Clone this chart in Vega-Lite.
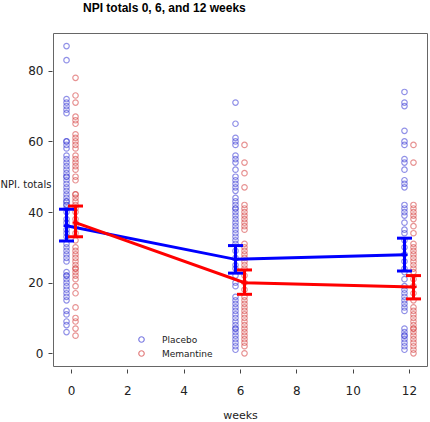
{
  "$schema": "https://vega.github.io/schema/vega-lite/v6.json",
  "width": 374,
  "height": 333,
  "autosize": "none",
  "padding": {"left": 53, "top": 33, "right": 3, "bottom": 56},
  "background": "white",
  "title": {"text": "NPI totals 0, 6, and 12 weeks", "anchor": "start", "frame": "group", "dx": 30, "font": "Liberation Sans", "fontSize": 12, "fontWeight": "bold", "color": "#000000", "offset": 18},
  "config": {
    "view": {"stroke": "#666666", "strokeWidth": 1},
    "axis": {"domain": false, "grid": false, "labelFont": "DejaVu Sans", "titleFont": "DejaVu Sans", "labelColor": "#222222", "titleColor": "#222222", "tickColor": "#444444", "titleFontWeight": "normal", "labelFontSize": 12}
  },
  "datasets": {
    "points": [
      {"week":0,"group":"Placebo","npi":87},{"week":0,"group":"Placebo","npi":83},{"week":0,"group":"Placebo","npi":72},{"week":0,"group":"Placebo","npi":71},{"week":0,"group":"Placebo","npi":70},{"week":0,"group":"Placebo","npi":69},{"week":0,"group":"Placebo","npi":68},{"week":0,"group":"Placebo","npi":60},{"week":0,"group":"Placebo","npi":60},{"week":0,"group":"Placebo","npi":59},{"week":0,"group":"Placebo","npi":58},{"week":0,"group":"Placebo","npi":56},{"week":0,"group":"Placebo","npi":55},{"week":0,"group":"Placebo","npi":54},{"week":0,"group":"Placebo","npi":53},{"week":0,"group":"Placebo","npi":52},{"week":0,"group":"Placebo","npi":51},{"week":0,"group":"Placebo","npi":50},{"week":0,"group":"Placebo","npi":50},{"week":0,"group":"Placebo","npi":49},{"week":0,"group":"Placebo","npi":48},{"week":0,"group":"Placebo","npi":47},{"week":0,"group":"Placebo","npi":46},{"week":0,"group":"Placebo","npi":45},{"week":0,"group":"Placebo","npi":44},{"week":0,"group":"Placebo","npi":43},{"week":0,"group":"Placebo","npi":42},{"week":0,"group":"Placebo","npi":43},{"week":0,"group":"Placebo","npi":42},{"week":0,"group":"Placebo","npi":41},{"week":0,"group":"Placebo","npi":40},{"week":0,"group":"Placebo","npi":38},{"week":0,"group":"Placebo","npi":37},{"week":0,"group":"Placebo","npi":35},{"week":0,"group":"Placebo","npi":34},{"week":0,"group":"Placebo","npi":33},{"week":0,"group":"Placebo","npi":31},{"week":0,"group":"Placebo","npi":30},{"week":0,"group":"Placebo","npi":29},{"week":0,"group":"Placebo","npi":28},{"week":0,"group":"Placebo","npi":27},{"week":0,"group":"Placebo","npi":26},{"week":0,"group":"Placebo","npi":23},{"week":0,"group":"Placebo","npi":22},{"week":0,"group":"Placebo","npi":22},{"week":0,"group":"Placebo","npi":21},{"week":0,"group":"Placebo","npi":20},{"week":0,"group":"Placebo","npi":19},{"week":0,"group":"Placebo","npi":18},{"week":0,"group":"Placebo","npi":17},{"week":0,"group":"Placebo","npi":16},{"week":0,"group":"Placebo","npi":15},{"week":0,"group":"Placebo","npi":12},{"week":0,"group":"Placebo","npi":11},{"week":0,"group":"Placebo","npi":9},{"week":0,"group":"Placebo","npi":8},{"week":0,"group":"Placebo","npi":6},
      {"week":0,"group":"Memantine","npi":78},{"week":0,"group":"Memantine","npi":73},{"week":0,"group":"Memantine","npi":71},{"week":0,"group":"Memantine","npi":67},{"week":0,"group":"Memantine","npi":66},{"week":0,"group":"Memantine","npi":65},{"week":0,"group":"Memantine","npi":62},{"week":0,"group":"Memantine","npi":61},{"week":0,"group":"Memantine","npi":60},{"week":0,"group":"Memantine","npi":59},{"week":0,"group":"Memantine","npi":58},{"week":0,"group":"Memantine","npi":56},{"week":0,"group":"Memantine","npi":55},{"week":0,"group":"Memantine","npi":54},{"week":0,"group":"Memantine","npi":53},{"week":0,"group":"Memantine","npi":52},{"week":0,"group":"Memantine","npi":50},{"week":0,"group":"Memantine","npi":49},{"week":0,"group":"Memantine","npi":45},{"week":0,"group":"Memantine","npi":45},{"week":0,"group":"Memantine","npi":44},{"week":0,"group":"Memantine","npi":43},{"week":0,"group":"Memantine","npi":42},{"week":0,"group":"Memantine","npi":41},{"week":0,"group":"Memantine","npi":40},{"week":0,"group":"Memantine","npi":38},{"week":0,"group":"Memantine","npi":36},{"week":0,"group":"Memantine","npi":34},{"week":0,"group":"Memantine","npi":32},{"week":0,"group":"Memantine","npi":30},{"week":0,"group":"Memantine","npi":29},{"week":0,"group":"Memantine","npi":28},{"week":0,"group":"Memantine","npi":27},{"week":0,"group":"Memantine","npi":26},{"week":0,"group":"Memantine","npi":25},{"week":0,"group":"Memantine","npi":24},{"week":0,"group":"Memantine","npi":24},{"week":0,"group":"Memantine","npi":23},{"week":0,"group":"Memantine","npi":22},{"week":0,"group":"Memantine","npi":21},{"week":0,"group":"Memantine","npi":19},{"week":0,"group":"Memantine","npi":17},{"week":0,"group":"Memantine","npi":13},{"week":0,"group":"Memantine","npi":10},{"week":0,"group":"Memantine","npi":9},{"week":0,"group":"Memantine","npi":7},{"week":0,"group":"Memantine","npi":5},
      {"week":6,"group":"Placebo","npi":71},{"week":6,"group":"Placebo","npi":65},{"week":6,"group":"Placebo","npi":61},{"week":6,"group":"Placebo","npi":60},{"week":6,"group":"Placebo","npi":59},{"week":6,"group":"Placebo","npi":56},{"week":6,"group":"Placebo","npi":55},{"week":6,"group":"Placebo","npi":54},{"week":6,"group":"Placebo","npi":52},{"week":6,"group":"Placebo","npi":50},{"week":6,"group":"Placebo","npi":49},{"week":6,"group":"Placebo","npi":48},{"week":6,"group":"Placebo","npi":47},{"week":6,"group":"Placebo","npi":46},{"week":6,"group":"Placebo","npi":44},{"week":6,"group":"Placebo","npi":43},{"week":6,"group":"Placebo","npi":42},{"week":6,"group":"Placebo","npi":41},{"week":6,"group":"Placebo","npi":41},{"week":6,"group":"Placebo","npi":40},{"week":6,"group":"Placebo","npi":39},{"week":6,"group":"Placebo","npi":38},{"week":6,"group":"Placebo","npi":37},{"week":6,"group":"Placebo","npi":36},{"week":6,"group":"Placebo","npi":35},{"week":6,"group":"Placebo","npi":34},{"week":6,"group":"Placebo","npi":33},{"week":6,"group":"Placebo","npi":32},{"week":6,"group":"Placebo","npi":31},{"week":6,"group":"Placebo","npi":29},{"week":6,"group":"Placebo","npi":27},{"week":6,"group":"Placebo","npi":25},{"week":6,"group":"Placebo","npi":24},{"week":6,"group":"Placebo","npi":22},{"week":6,"group":"Placebo","npi":20},{"week":6,"group":"Placebo","npi":19},{"week":6,"group":"Placebo","npi":16},{"week":6,"group":"Placebo","npi":15},{"week":6,"group":"Placebo","npi":14},{"week":6,"group":"Placebo","npi":13},{"week":6,"group":"Placebo","npi":12},{"week":6,"group":"Placebo","npi":11},{"week":6,"group":"Placebo","npi":10},{"week":6,"group":"Placebo","npi":9},{"week":6,"group":"Placebo","npi":8},{"week":6,"group":"Placebo","npi":7},{"week":6,"group":"Placebo","npi":7},{"week":6,"group":"Placebo","npi":6},{"week":6,"group":"Placebo","npi":5},{"week":6,"group":"Placebo","npi":4},{"week":6,"group":"Placebo","npi":3},{"week":6,"group":"Placebo","npi":2},{"week":6,"group":"Placebo","npi":1},
      {"week":6,"group":"Memantine","npi":59},{"week":6,"group":"Memantine","npi":54},{"week":6,"group":"Memantine","npi":51},{"week":6,"group":"Memantine","npi":47},{"week":6,"group":"Memantine","npi":42},{"week":6,"group":"Memantine","npi":41},{"week":6,"group":"Memantine","npi":40},{"week":6,"group":"Memantine","npi":39},{"week":6,"group":"Memantine","npi":38},{"week":6,"group":"Memantine","npi":37},{"week":6,"group":"Memantine","npi":36},{"week":6,"group":"Memantine","npi":35},{"week":6,"group":"Memantine","npi":31},{"week":6,"group":"Memantine","npi":30},{"week":6,"group":"Memantine","npi":29},{"week":6,"group":"Memantine","npi":28},{"week":6,"group":"Memantine","npi":27},{"week":6,"group":"Memantine","npi":26},{"week":6,"group":"Memantine","npi":25},{"week":6,"group":"Memantine","npi":24},{"week":6,"group":"Memantine","npi":22},{"week":6,"group":"Memantine","npi":20},{"week":6,"group":"Memantine","npi":18},{"week":6,"group":"Memantine","npi":16},{"week":6,"group":"Memantine","npi":15},{"week":6,"group":"Memantine","npi":14},{"week":6,"group":"Memantine","npi":13},{"week":6,"group":"Memantine","npi":12},{"week":6,"group":"Memantine","npi":11},{"week":6,"group":"Memantine","npi":10},{"week":6,"group":"Memantine","npi":9},{"week":6,"group":"Memantine","npi":8},{"week":6,"group":"Memantine","npi":7},{"week":6,"group":"Memantine","npi":6},{"week":6,"group":"Memantine","npi":5},{"week":6,"group":"Memantine","npi":4},{"week":6,"group":"Memantine","npi":3},{"week":6,"group":"Memantine","npi":2},{"week":6,"group":"Memantine","npi":0},
      {"week":12,"group":"Placebo","npi":74},{"week":12,"group":"Placebo","npi":71},{"week":12,"group":"Placebo","npi":70},{"week":12,"group":"Placebo","npi":63},{"week":12,"group":"Placebo","npi":60},{"week":12,"group":"Placebo","npi":59},{"week":12,"group":"Placebo","npi":55},{"week":12,"group":"Placebo","npi":54},{"week":12,"group":"Placebo","npi":52},{"week":12,"group":"Placebo","npi":49},{"week":12,"group":"Placebo","npi":48},{"week":12,"group":"Placebo","npi":47},{"week":12,"group":"Placebo","npi":42},{"week":12,"group":"Placebo","npi":41},{"week":12,"group":"Placebo","npi":40},{"week":12,"group":"Placebo","npi":39},{"week":12,"group":"Placebo","npi":37},{"week":12,"group":"Placebo","npi":35},{"week":12,"group":"Placebo","npi":34},{"week":12,"group":"Placebo","npi":32},{"week":12,"group":"Placebo","npi":30},{"week":12,"group":"Placebo","npi":28},{"week":12,"group":"Placebo","npi":26},{"week":12,"group":"Placebo","npi":24},{"week":12,"group":"Placebo","npi":23},{"week":12,"group":"Placebo","npi":21},{"week":12,"group":"Placebo","npi":19},{"week":12,"group":"Placebo","npi":18},{"week":12,"group":"Placebo","npi":17},{"week":12,"group":"Placebo","npi":16},{"week":12,"group":"Placebo","npi":15},{"week":12,"group":"Placebo","npi":14},{"week":12,"group":"Placebo","npi":13},{"week":12,"group":"Placebo","npi":12},{"week":12,"group":"Placebo","npi":7},{"week":12,"group":"Placebo","npi":6},{"week":12,"group":"Placebo","npi":5},{"week":12,"group":"Placebo","npi":5},{"week":12,"group":"Placebo","npi":4},{"week":12,"group":"Placebo","npi":3},{"week":12,"group":"Placebo","npi":2},{"week":12,"group":"Placebo","npi":1},
      {"week":12,"group":"Memantine","npi":59},{"week":12,"group":"Memantine","npi":54},{"week":12,"group":"Memantine","npi":42},{"week":12,"group":"Memantine","npi":41},{"week":12,"group":"Memantine","npi":40},{"week":12,"group":"Memantine","npi":39},{"week":12,"group":"Memantine","npi":38},{"week":12,"group":"Memantine","npi":36},{"week":12,"group":"Memantine","npi":34},{"week":12,"group":"Memantine","npi":31},{"week":12,"group":"Memantine","npi":30},{"week":12,"group":"Memantine","npi":29},{"week":12,"group":"Memantine","npi":28},{"week":12,"group":"Memantine","npi":27},{"week":12,"group":"Memantine","npi":26},{"week":12,"group":"Memantine","npi":25},{"week":12,"group":"Memantine","npi":24},{"week":12,"group":"Memantine","npi":23},{"week":12,"group":"Memantine","npi":21},{"week":12,"group":"Memantine","npi":19},{"week":12,"group":"Memantine","npi":17},{"week":12,"group":"Memantine","npi":15},{"week":12,"group":"Memantine","npi":13},{"week":12,"group":"Memantine","npi":12},{"week":12,"group":"Memantine","npi":11},{"week":12,"group":"Memantine","npi":10},{"week":12,"group":"Memantine","npi":9},{"week":12,"group":"Memantine","npi":8},{"week":12,"group":"Memantine","npi":7},{"week":12,"group":"Memantine","npi":7},{"week":12,"group":"Memantine","npi":6},{"week":12,"group":"Memantine","npi":5},{"week":12,"group":"Memantine","npi":4},{"week":12,"group":"Memantine","npi":3},{"week":12,"group":"Memantine","npi":2},{"week":12,"group":"Memantine","npi":1},{"week":12,"group":"Memantine","npi":0}
    ],
    "summary": [
      {"week":0,"group":"Placebo","mean":36.1,"lo":31.8,"hi":40.8},
      {"week":6,"group":"Placebo","mean":26.6,"lo":22.7,"hi":30.5},
      {"week":12,"group":"Placebo","mean":27.9,"lo":23.3,"hi":32.6},
      {"week":0,"group":"Memantine","mean":37.0,"lo":33.0,"hi":41.7},
      {"week":6,"group":"Memantine","mean":20.0,"lo":16.7,"hi":23.6},
      {"week":12,"group":"Memantine","mean":18.8,"lo":15.4,"hi":22.0}
    ]
  },
  "layer": [
    {
      "data": {"name": "points"},
      "transform": [{"filter": "datum.group === 'Placebo'"}],
      "mark": {"type": "point", "shape": "circle", "filled": false, "size": 30, "strokeWidth": 1.2, "strokeOpacity": 0.85, "xOffset": -4.5},
      "encoding": {
        "x": {"field": "week", "type": "quantitative", "scale": {"domain": [-0.64, 12.64], "nice": false, "zero": false},
              "axis": {"title": "weeks", "values": [0, 2, 4, 6, 8, 10, 12], "format": "d", "offset": 3, "tickSize": 4, "labelPadding": 12, "titleFontSize": 11, "titlePadding": 13}},
        "y": {"field": "npi", "type": "quantitative", "scale": {"domain": [-3.6, 90.7], "nice": false, "zero": false},
              "axis": {"title": "NPI. totals", "values": [0, 20, 40, 60, 80], "offset": 1, "tickSize": 4, "labelPadding": 5, "titleAngle": 0, "titleAlign": "left", "titleBaseline": "middle", "titleX": -52, "titleY": 151, "titleFontSize": 10}},
        "stroke": {"field": "group", "type": "nominal", "scale": {"domain": ["Placebo", "Memantine"], "range": ["#4848d8", "#d84c4c"]},
                   "legend": {"title": null, "orient": "none", "legendX": 84, "legendY": 302, "symbolType": "circle", "symbolSize": 30, "symbolStrokeWidth": 1.2, "symbolFillColor": "transparent", "labelFont": "DejaVu Sans", "labelFontSize": 9, "labelColor": "#222222", "labelOffset": 16, "rowPadding": 3, "padding": 0}}
      }
    },
    {
      "data": {"name": "points"},
      "transform": [{"filter": "datum.group === 'Memantine'"}],
      "mark": {"type": "point", "shape": "circle", "filled": false, "size": 30, "strokeWidth": 1.2, "strokeOpacity": 0.85, "xOffset": 4.5},
      "encoding": {
        "x": {"field": "week", "type": "quantitative"},
        "y": {"field": "npi", "type": "quantitative"},
        "stroke": {"field": "group", "type": "nominal"}
      }
    },
    {
      "data": {"name": "summary"},
      "transform": [{"filter": "datum.group === 'Placebo'"}],
      "layer": [
        {"mark": {"type": "line", "color": "#0000ff", "strokeWidth": 3, "xOffset": -4.5},
         "encoding": {"x": {"field": "week", "type": "quantitative"}, "y": {"field": "mean", "type": "quantitative"}}},
        {"mark": {"type": "rule", "color": "#0000ff", "strokeWidth": 3, "xOffset": -4.5},
         "encoding": {"x": {"field": "week", "type": "quantitative"}, "y": {"field": "lo", "type": "quantitative"}, "y2": {"field": "hi"}}},
        {"mark": {"type": "tick", "orient": "horizontal", "color": "#0000ff", "size": 15, "thickness": 3, "opacity": 1, "xOffset": -4.5},
         "encoding": {"x": {"field": "week", "type": "quantitative"}, "y": {"field": "lo", "type": "quantitative"}}},
        {"mark": {"type": "tick", "orient": "horizontal", "color": "#0000ff", "size": 15, "thickness": 3, "opacity": 1, "xOffset": -4.5},
         "encoding": {"x": {"field": "week", "type": "quantitative"}, "y": {"field": "hi", "type": "quantitative"}}},
        {"mark": {"type": "point", "shape": "cross", "filled": true, "color": "#0000ff", "size": 36, "opacity": 1, "xOffset": -4.5},
         "encoding": {"x": {"field": "week", "type": "quantitative"}, "y": {"field": "mean", "type": "quantitative"}}}
      ]
    },
    {
      "data": {"name": "summary"},
      "transform": [{"filter": "datum.group === 'Memantine'"}],
      "layer": [
        {"mark": {"type": "line", "color": "#ff0000", "strokeWidth": 3, "xOffset": 4.5},
         "encoding": {"x": {"field": "week", "type": "quantitative"}, "y": {"field": "mean", "type": "quantitative"}}},
        {"mark": {"type": "rule", "color": "#ff0000", "strokeWidth": 3, "xOffset": 4.5},
         "encoding": {"x": {"field": "week", "type": "quantitative"}, "y": {"field": "lo", "type": "quantitative"}, "y2": {"field": "hi"}}},
        {"mark": {"type": "tick", "orient": "horizontal", "color": "#ff0000", "size": 15, "thickness": 3, "opacity": 1, "xOffset": 4.5},
         "encoding": {"x": {"field": "week", "type": "quantitative"}, "y": {"field": "lo", "type": "quantitative"}}},
        {"mark": {"type": "tick", "orient": "horizontal", "color": "#ff0000", "size": 15, "thickness": 3, "opacity": 1, "xOffset": 4.5},
         "encoding": {"x": {"field": "week", "type": "quantitative"}, "y": {"field": "hi", "type": "quantitative"}}},
        {"mark": {"type": "point", "shape": "cross", "filled": true, "color": "#ff0000", "size": 36, "opacity": 1, "xOffset": 4.5},
         "encoding": {"x": {"field": "week", "type": "quantitative"}, "y": {"field": "mean", "type": "quantitative"}}}
      ]
    }
  ]
}
